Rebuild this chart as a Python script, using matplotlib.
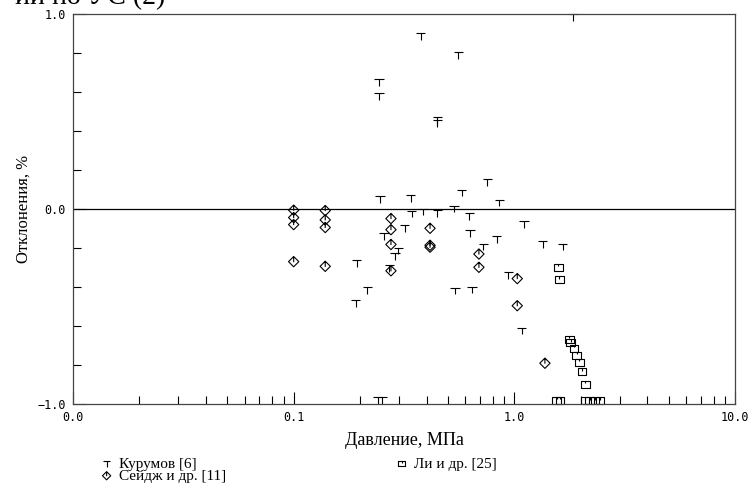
import matplotlib
matplotlib.use("Agg")
import matplotlib.pyplot as plt
import numpy as np
from matplotlib.path import Path
from matplotlib.ticker import FixedLocator, FixedFormatter, NullFormatter

# Курумов [6]
kur_p = [0.376, 0.557, 0.244, 0.244, 0.447, 0.447, 1.849, 0.246, 0.339, 0.577,
         0.754, 0.854, 0.342, 0.385, 0.447, 0.532, 0.625, 0.630, 0.319, 1.105,
         0.831, 0.723, 1.343, 1.655, 0.938, 0.538, 0.642, 1.079, 0.257, 0.298,
         0.288, 0.271, 0.193, 0.216, 0.191, 0.241, 0.251]
kur_d = [0.887, 0.790, 0.651, 0.579, 0.456, 0.441, 0.985, 0.051, 0.056, 0.085,
         0.138, 0.032, -0.023, -0.013, -0.022, 0.003, -0.036, -0.122, -0.097, -0.077,
         -0.154, -0.193, -0.179, -0.193, -0.338, -0.418, -0.412, -0.624, -0.138, -0.214,
         -0.241, -0.304, -0.278, -0.415, -0.481, -0.979, -0.979]

# Сейдж и др. [11]
sage_p = [0.1, 0.1, 0.1, 0.1, 0.139, 0.139, 0.139, 0.139, 0.276, 0.276, 0.276, 0.276,
          0.415, 0.415, 0.415, 0.691, 0.691, 1.031, 1.031, 1.376]
sage_d = [-0.006, -0.044, -0.080, -0.270, -0.008, -0.056, -0.095, -0.294, -0.049, -0.106,
          -0.182, -0.317, -0.099, -0.186, -0.196, -0.231, -0.299, -0.357, -0.496, -0.791]

# Ли и др. [25]
li_p = [1.580, 1.598, 1.773, 1.799, 1.862, 1.915, 1.968, 2.025, 2.096,
        1.555, 1.609, 2.089, 2.200, 2.318, 2.443]
li_d = [-0.299, -0.364, -0.668, -0.686, -0.714, -0.749, -0.786, -0.834, -0.899,
        -0.980, -0.980, -0.982, -0.982, -0.982, -0.982]

x_ticks = [0.01, 0.1, 1.0, 10.0]
x_labels = ["0.0", "0.1", "1.0", "10.0"]
y_ticks = [-1.0, 0.0, 1.0]
y_labels = ["\u22121.0", "0.0", "1.0"]

# маркеры как в исходнике
t_mark = Path([(-1, 0.6), (1, 0.6), (0, 0.6), (0, -0.8)],
              [Path.MOVETO, Path.LINETO, Path.MOVETO, Path.LINETO])
d_mark = Path([(0, 1), (1, 0), (0, -1), (-1, 0), (0, 1), (0, 0.9), (0, -0.1)],
              [Path.MOVETO, Path.LINETO, Path.LINETO, Path.LINETO, Path.CLOSEPOLY,
               Path.MOVETO, Path.LINETO])
s_mark = Path([(-1, -0.8), (1, -0.8), (1, 0.8), (-1, 0.8), (-1, -0.8), (0, 0.8), (0, 0.2)],
              [Path.MOVETO, Path.LINETO, Path.LINETO, Path.LINETO, Path.CLOSEPOLY,
               Path.MOVETO, Path.LINETO])

serif = ["Liberation Serif", "DejaVu Serif"]
mono = ["DejaVu Sans Mono"]

fig = plt.figure(figsize=(7.55, 4.92), dpi=100)
ax = fig.add_axes([0.0967, 0.1789, 0.8768, 0.7926])

ax.scatter(kur_p, kur_d, marker=t_mark, s=45, facecolors="none", edgecolors="black",
           linewidths=0.8, label="Курумов [6]", clip_on=False)
ax.scatter(sage_p, sage_d, marker=d_mark, s=55, facecolors="none", edgecolors="black",
           linewidths=0.8, label="Сейдж и др. [11]", clip_on=False)
ax.scatter(li_p, li_d, marker=s_mark, s=40, facecolors="none", edgecolors="black",
           linewidths=0.8, label="Ли и др. [25]", clip_on=False)

ax.axhline(0, color="black", lw=0.9)

ax.set_xscale("log")
ax.set_xlim(0.01, 10)
ax.set_ylim(-1, 1)
ax.xaxis.set_major_locator(FixedLocator(x_ticks))
ax.xaxis.set_major_formatter(FixedFormatter(x_labels))
ax.xaxis.set_minor_formatter(NullFormatter())
ax.yaxis.set_major_locator(FixedLocator(y_ticks))
ax.yaxis.set_major_formatter(FixedFormatter(y_labels))
ax.yaxis.set_minor_locator(FixedLocator(np.arange(-0.8, 0.81, 0.2)))
ax.tick_params(which="both", direction="in", top=False, right=False,
               labelsize=8.5, width=0.8, pad=5)
ax.tick_params(which="major", length=9)
ax.tick_params(which="minor", length=6)
for lab in ax.get_xticklabels() + ax.get_yticklabels():
    lab.set_family(mono)
for sp in ax.spines.values():
    sp.set_linewidth(0.9)
    sp.set_color("#444444")

ax.set_xlabel("Давление, МПа", family=serif, fontsize=13, labelpad=6)
ax.set_ylabel("Отклонения, %", family=serif, fontsize=12, labelpad=4)

ax.legend(loc="upper left", bbox_to_anchor=(0.03, -0.12), ncol=2, frameon=False,
          prop={"family": serif, "size": 11}, handletextpad=0.3, columnspacing=11,
          labelspacing=-0.1, borderaxespad=0, markerscale=0.8, handlelength=1)

# обрезанная подпись сверху (как в исходном скане)
fig.text(165 / 755, 1 - 4 / 492, "ии по УС (2)", family=serif, fontsize=20,
         ha="right", va="baseline")

fig.savefig("out.png", dpi=100)
